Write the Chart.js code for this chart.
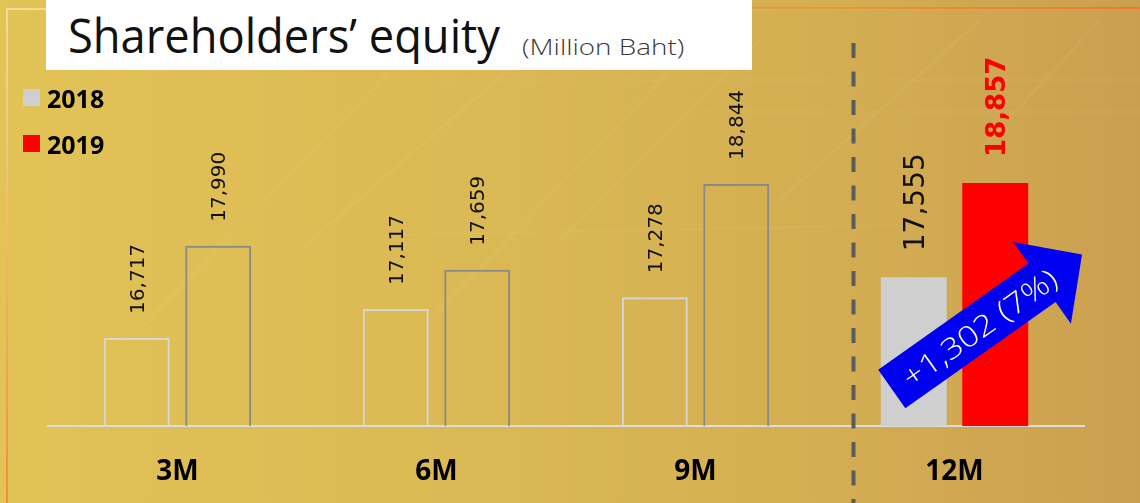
<!DOCTYPE html>
<html>
<head>
<meta charset="utf-8">
<script src="https://cdn.jsdelivr.net/npm/chart.js@4.4.0/dist/chart.umd.min.js"></script>
<style>
  html, body { margin: 0; padding: 0; }
  body { width: 1140px; height: 503px; overflow: hidden; position: relative; }
  #wrap { position: absolute; left: 0; top: 0; width: 1140px; height: 503px; }
  #titleBox {
    position: absolute; left: 46px; top: 0; width: 706px; height: 70px;
    background: #fff; overflow: hidden;
  }
  #titleMain, #titleUnit {
    position: absolute; white-space: nowrap; transform-origin: 0 0;
    font-family: "Open Sans", "Noto Sans", sans-serif; font-weight: 400;
  }
  #titleMain { left: 22px; top: 3px; font-size: 48px; line-height: 64px; color: #111; }
  #titleUnit { left: 476px; top: 31px; font-size: 22px; line-height: 30px; color: #3a3a3a; font-weight: 300; }
  .legend {
    position: absolute; left: 23px; height: 20px;
    font-family: "Noto Sans", sans-serif; font-weight: bold; font-size: 25px;
    color: #000; line-height: 20px;
  }
  .legend i {
    display: inline-block; width: 17px; height: 17px; vertical-align: top;
    margin-right: 7px; margin-top: 1px;
  }
</style>
</head>
<body>
<div id="wrap"><canvas id="equityChart" width="1140" height="503"></canvas></div>
<div id="titleBox">
  <div id="titleMain">Shareholders’ equity</div>
  <div id="titleUnit">(Million Baht)</div>
</div>
<div class="legend" style="top:88px"><i style="background:#d0cfcf"></i>2018</div>
<div class="legend" style="top:134px"><i style="background:#ff0000"></i>2019</div>
<script>
// Shareholders' equity by period, million baht
const periods = ['3M', '6M', '9M', '12M'];
const equity2018 = [16717, 17117, 17278, 17555];
const equity2019 = [17990, 17659, 18844, 18857];
const seriesNames = ['2018', '2019'];

const fmt = v => v.toLocaleString('en-US');
const last = periods.length - 1;

// squeeze the title strings to their box widths
function fitWidth(el, w) {
  const s = w / el.offsetWidth;
  el.style.transform = 'scaleX(' + s + ')';
}
fitWidth(document.getElementById('titleMain'), 432);
fitWidth(document.getElementById('titleUnit'), 162);

// full-year bars are filled, the quarterly ones are outlines only
const fill2018 = periods.map((p, i) => i === last ? '#d0cfcf' : 'rgba(0,0,0,0)');
const edge2018 = periods.map((p, i) => i === last ? '#d0cfcf' : '#d6d6d6');
const fill2019 = periods.map((p, i) => i === last ? '#ff0000' : 'rgba(0,0,0,0)');
const edge2019 = periods.map((p, i) => i === last ? '#ff0000' : '#8a8a8a');
const edgeWidth = periods.map((p, i) => i === last ? 0 : 2);

// golden backdrop with faint streaks and the thin frame line
const backdrop = {
  id: 'backdrop',
  beforeDraw(chart) {
    const ctx = chart.ctx, w = chart.width, h = chart.height;
    ctx.save();
    const g = ctx.createLinearGradient(0, 0, w, 0);
    g.addColorStop(0, '#e2c356');
    g.addColorStop(0.45, '#dab854');
    g.addColorStop(0.75, '#d3ad52');
    g.addColorStop(1, '#cb9f50');
    ctx.fillStyle = g;
    ctx.fillRect(0, 0, w, h);

    ctx.strokeStyle = 'rgba(255,240,180,0.06)';
    ctx.lineWidth = 3;
    [[140, 330, 420, 40], [420, 330, 700, 40], [560, 240, 760, 40],
     [780, 200, 980, 20], [980, 150, 1100, 20], [300, 250, 520, 60]].forEach(s => {
      ctx.beginPath();
      ctx.moveTo(s[0], s[1]);
      ctx.lineTo(s[2], s[3]);
      ctx.stroke();
    });
    ctx.lineWidth = 2;
    [[440, 80, 1140, 80], [700, 112, 1140, 112], [400, 235, 900, 225]].forEach(s => {
      ctx.beginPath();
      ctx.moveTo(s[0], s[1]);
      ctx.lineTo(s[2], s[3]);
      ctx.stroke();
    });

    const f = ctx.createLinearGradient(0, 0, 200, 500);
    f.addColorStop(0, '#f4dc9c');
    f.addColorStop(1, '#ee8428');
    ctx.strokeStyle = f;
    ctx.lineWidth = 2;
    ctx.beginPath();
    ctx.moveTo(7, h);
    ctx.lineTo(7, 9);
    ctx.lineTo(w, 9);
    ctx.stroke();
    const t = ctx.createLinearGradient(700, 0, w, 0);
    t.addColorStop(0, '#e4a040');
    t.addColorStop(1, '#ec7a28');
    ctx.strokeStyle = t;
    ctx.beginPath();
    ctx.moveTo(700, 8);
    ctx.lineTo(w, 8);
    ctx.stroke();
    ctx.restore();
  }
};

// vertical values above bars, dashed divider and the growth arrow
const overlay = {
  id: 'overlay',
  afterDatasetsDraw(chart) {
    const ctx = chart.ctx;
    const x = chart.scales.x;
    const m0 = chart.getDatasetMeta(0).data;
    const m1 = chart.getDatasetMeta(1).data;
    ctx.save();

    const vlabel = (bar, text, font, color, cap, gap) => {
      ctx.save();
      ctx.translate(bar.x + cap / 2, bar.y - gap);
      ctx.rotate(-Math.PI / 2);
      ctx.font = font;
      ctx.fillStyle = color;
      ctx.textAlign = 'left';
      ctx.textBaseline = 'alphabetic';
      ctx.fillText(text, 0, 0);
      ctx.restore();
    };
    periods.forEach((p, i) => {
      if (i === last) {
        vlabel(m0[i], fmt(equity2018[i]), '28px "DejaVu Sans"', '#111', 21, 26);
        vlabel(m1[i], fmt(equity2019[i]), 'bold 26px "DejaVu Sans"', '#ff0000', 19, 26);
      } else {
        vlabel(m0[i], fmt(equity2018[i]), '20px "DejaVu Sans"', '#111', 14, 24);
        vlabel(m1[i], fmt(equity2019[i]), '20px "DejaVu Sans"', '#111', 14, 24);
      }
    });

    // divider between the quarters and the full year
    const a = x.getPixelForValue(last - 1), b = x.getPixelForValue(last);
    const dx = a + (b - a) * 0.61;
    ctx.strokeStyle = '#5b5b5b';
    ctx.lineWidth = 4;
    ctx.setLineDash([15, 13.5]);
    ctx.beginPath();
    ctx.moveTo(dx, 43);
    ctx.lineTo(dx, chart.height);
    ctx.stroke();
    ctx.setLineDash([]);

    // arrow from the 2018 bar across the 2019 bar
    const diff = equity2019[last] - equity2018[last];
    const pct = Math.round(diff / equity2018[last] * 100);
    const tail = { x: m0[last].x - 22, y: chart.chartArea.bottom - 37 };
    const ang = -35.25 * Math.PI / 180;
    const len = 233, headLen = 49, shaft = 23.5, head = 50;
    ctx.save();
    ctx.translate(tail.x, tail.y);
    ctx.rotate(ang);
    ctx.fillStyle = '#0000f0';
    ctx.beginPath();
    ctx.moveTo(0, -shaft);
    ctx.lineTo(len - headLen, -shaft);
    ctx.lineTo(len - headLen, -head);
    ctx.lineTo(len, 0);
    ctx.lineTo(len - headLen, head);
    ctx.lineTo(len - headLen, shaft);
    ctx.lineTo(0, shaft);
    ctx.closePath();
    ctx.fill();
    const txt = '+' + fmt(diff) + ' (' + pct + '%)';
    ctx.fillStyle = '#fff';
    ctx.font = '300 29px "Open Sans", "DejaVu Sans"';
    ctx.textAlign = 'center';
    ctx.textBaseline = 'middle';
    ctx.translate(107, 3);
    ctx.scale(182 / ctx.measureText(txt).width, 1);
    ctx.fillText(txt, 0, 0);
    ctx.restore();

    ctx.restore();
  }
};

const ctx = document.getElementById('equityChart').getContext('2d');
const equityChart = new Chart(ctx, {
  type: 'bar',
  data: {
    labels: periods,
    datasets: [
      {
        label: seriesNames[0],
        data: equity2018,
        backgroundColor: fill2018,
        borderColor: edge2018,
        borderWidth: edgeWidth,
        categoryPercentage: 0.629,
        barPercentage: 0.81
      },
      {
        label: seriesNames[1],
        data: equity2019,
        backgroundColor: fill2019,
        borderColor: edge2019,
        borderWidth: edgeWidth,
        categoryPercentage: 0.629,
        barPercentage: 0.81
      }
    ]
  },
  options: {
    responsive: false,
    animation: false,
    layout: { padding: { left: 48, right: 56, top: 64, bottom: 0 } },
    plugins: {
      legend: { display: false },
      tooltip: { enabled: false }
    },
    scales: {
      x: {
        grid: { display: false },
        border: { display: true, color: '#dcdcdc', width: 2 },
        ticks: {
          color: '#000',
          padding: 21,
          font: { family: 'Noto Sans', size: 28, weight: 'bold' }
        },
        afterFit(scale) { scale.height = 77; }
      },
      y: {
        display: false,
        min: 15500,
        max: 20500
      }
    }
  },
  plugins: [backdrop, overlay]
});
</script>
</body>
</html>
